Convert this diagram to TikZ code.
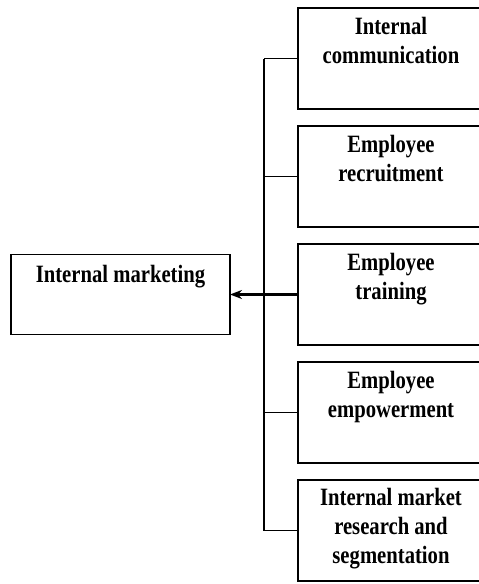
\documentclass[tikz,border=0pt]{standalone}
\usepackage{fontspec}
\setmainfont{Liberation Serif}
\newfontfamily\labelfont[FakeStretch=0.83]{Liberation Serif}
\usetikzlibrary{positioning,arrows.meta}

\begin{document}
\begin{tikzpicture}[x=1pt,y=1pt,
	block/.style={draw,line width=1.7pt,minimum width=186pt,minimum height=101pt,inner sep=0pt,outer sep=0pt},
	heading/.style={font=\labelfont\bfseries\fontsize{24.9}{29}\selectfont,align=center,inner sep=0pt},
	link/.style={line width=1.7pt}]
	
	\useasboundingbox (0,0) rectangle (479,-584);
	
	% column of activities on the right
	\node [block,anchor=north west] (communication) at (298,-8) {};
	\node [block,below=17pt of communication] (recruitment) {};
	\node [block,below=17pt of recruitment] (training) {};
	\node [block,below=17pt of training] (empowerment) {};
	\node [block,below=17pt of empowerment] (segmentation) {};
	
	\node [block,minimum width=219pt,minimum height=80pt] (marketing) at (120.5,0 |- training.west) {};
	
	%%%%%%%%%%%%%%%%%%%%%%%%%%%%%%%%%%%%%%%%%%%%%%%%%%%%%%
	
	\node [heading,below=9pt of communication.north] (communication-text) {Internal\\communication};
	\node [heading,below=9pt of recruitment.north] (recruitment-text) {Employee\\recruitment};
	\node [heading,below=9pt of training.north] (training-text) {Employee\\training};
	\node [heading,below=9pt of empowerment.north] (empowerment-text) {Employee\\empowerment};
	\node [heading,below=8pt of segmentation.north] (segmentation-text) {Internal market\\research and\\segmentation};
	\node [heading,below=11pt of marketing.north] (marketing-text) {Internal marketing};
	
	%%%%%%%%%%%%%%%%%%%%%%%%%%%%%%%%%%%%%%%%%%%%%%%%%%%%%%
	
	\draw [link] (communication.west) -- ++(-34pt,0) coordinate (trunk-top);
	\draw [link] (segmentation.west) -- ++(-34pt,0) coordinate (trunk-bottom);
	\draw [link] (trunk-top) -- (trunk-bottom);
	\draw [link] (recruitment.west) -- (recruitment.west -| trunk-top);
	\draw [link] (empowerment.west) -- (empowerment.west -| trunk-top);
	%
	\draw [link,line width=2.4pt,-{Stealth[length=12pt,width=9pt]}] (training.west) -- (marketing.east);
	
\end{tikzpicture}
\end{document}
